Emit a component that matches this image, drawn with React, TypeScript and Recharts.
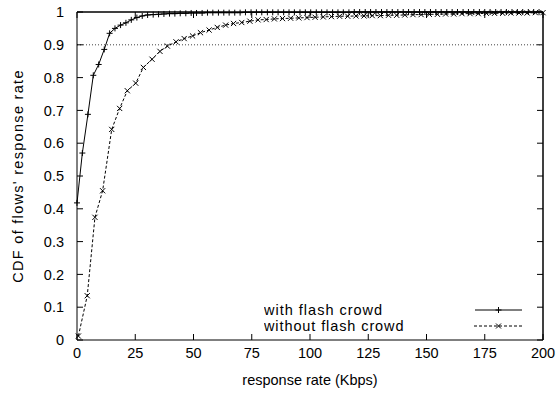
import React from "react";
import { LineChart, Line, XAxis, YAxis, ReferenceLine, CartesianGrid } from "recharts";

const xTicks = [0, 25, 50, 75, 100, 125, 150, 175, 200];
const yTicks = [0, 0.1, 0.2, 0.3, 0.4, 0.5, 0.6, 0.7, 0.8, 0.9, 1];

// with flash crowd (+)
const withX = [
  0, 2.3, 4.7, 7, 9.3, 11.7, 14, 16.3, 18.7, 21, 23.3, 25.7, 28, 30.3, 32.7, 35, 37.3, 39.7, 42, 44.3,
  46.7, 49, 51.3, 53.7, 56, 58.3, 60.7, 63, 65.3, 67.7, 70, 72.3, 74.7, 77, 79.3, 81.7, 84, 86.3, 88.7,
  91, 93.3, 95.7, 98, 100.3, 102.7, 105, 107.3, 109.7, 112, 114.3, 116.7, 119, 121.3, 123.7, 126,
  128.3, 130.7, 133, 135.3, 137.7, 140, 142.3, 144.7, 147, 149.3, 151.7, 154, 156.3, 158.7, 161,
  163.3, 165.7, 168, 170.3, 172.7, 175, 177.3, 179.7, 182, 184.3, 186.7, 189, 191.3, 193.7, 196, 198.3,
];
const withY = [
  0.418, 0.57, 0.688, 0.807, 0.84, 0.886, 0.935, 0.95, 0.96, 0.967, 0.976, 0.983, 0.988, 0.991, 0.992,
  0.993, 0.994, 0.995, 0.995, 0.996, 0.996, 0.997, 0.997, 0.997, 0.998, 0.998, 0.998, 0.998, 0.998,
  0.998, 0.998, 0.999, 0.999, 0.999, 0.999, 0.999, 0.999, 0.999, 0.999, 0.999, 0.999, 0.999, 0.999,
  0.999, 0.999, 0.999, 0.999, 0.999, 0.999, 0.999, 0.999, 1, 1, 1, 1, 1, 1, 1, 1, 1, 1, 1, 1, 1, 1, 1,
  1, 1, 1, 1, 1, 1, 1, 1, 1, 1, 1, 1, 1, 1, 1, 1, 1, 1, 1, 1,
];

// without flash crowd (x)
const withoutX = [
  0.6, 4.4, 7.7, 11, 14.9, 18.3, 21.6, 25.2, 28.5, 32.2, 35.6, 38.8, 42.5, 46, 49.6, 53, 56.7, 60.2,
  63.8, 67.2, 70.7, 74.2, 77.7, 81.2, 84.7, 88.2, 91.7, 95.2, 98.7, 102.2, 105.7, 109.2, 112.7, 116.2,
  119.7, 123.2, 126.7, 130.2, 133.7, 137.2, 140.7, 144.2, 147.7, 151.2, 154.7, 158.2, 161.7, 165.2,
  168.7, 172.2, 175.7, 179.2, 182.7, 186.2, 189.7, 193.2, 196.7, 200,
];
const withoutY = [
  0.012, 0.135, 0.374, 0.455, 0.642, 0.706, 0.76, 0.783, 0.831, 0.856, 0.88, 0.896, 0.909, 0.919,
  0.927, 0.937, 0.945, 0.953, 0.96, 0.965, 0.968, 0.972, 0.976, 0.977, 0.979, 0.98, 0.981, 0.982,
  0.983, 0.984, 0.985, 0.986, 0.987, 0.987, 0.988, 0.988, 0.989, 0.989, 0.99, 0.99, 0.991, 0.992,
  0.992, 0.993, 0.993, 0.994, 0.994, 0.995, 0.995, 0.995, 0.996, 0.996, 0.996, 0.997, 0.997, 0.997,
  0.998, 0.998,
];

const withData = withX.map((x, i) => ({ x, y: withY[i] }));
const withoutData = withoutX.map((x, i) => ({ x, y: withoutY[i] }));

const FONT = "'Liberation Sans', Arial, Helvetica, sans-serif";
const FS = 14.5;
const TICK = 6;

const fmtY = (v: number) => (v === 0 || v === 1 ? String(v) : v.toFixed(1));

function BottomTick(props: any) {
  const { x, y, payload } = props;
  const axisY = y - 8;
  return (
    <g>
      <line x1={x} x2={x} y1={axisY} y2={axisY - TICK} stroke="#000" />
      <text x={x} y={y} dy="0.71em" textAnchor="middle" fontFamily={FONT} fontSize={FS} fill="#000">
        {payload.value}
      </text>
    </g>
  );
}

function LeftTick(props: any) {
  const { x, y, payload } = props;
  const axisX = x + 13;
  return (
    <g>
      <line x1={axisX} x2={axisX + TICK} y1={y} y2={y} stroke="#000" />
      <text x={x} y={y} dy="0.36em" textAnchor="end" fontFamily={FONT} fontSize={FS} fill="#000">
        {fmtY(payload.value)}
      </text>
    </g>
  );
}

// mirrored ticks on the top and right border (gnuplot style)
const topTickShape = (p: any) => {
  const top = Math.min(p.y1, p.y2);
  return <line x1={p.x1} x2={p.x1} y1={top} y2={top + TICK} stroke="#000" />;
};
const rightTickShape = (p: any) => {
  const right = Math.max(p.x1, p.x2);
  return <line x1={right} x2={right - TICK} y1={p.y1} y2={p.y1} stroke="#000" />;
};

const PlusDot = (props: any) => {
  const { cx, cy, index } = props;
  if (cx == null || cy == null) return <g key={`p-${index}`} />;
  return (
    <g key={`p-${index}`}>
      <line x1={cx - 3} x2={cx + 3} y1={cy} y2={cy} stroke="#000" />
      <line x1={cx} x2={cx} y1={cy - 3} y2={cy + 3} stroke="#000" />
    </g>
  );
};

const CrossDot = (props: any) => {
  const { cx, cy, index } = props;
  if (cx == null || cy == null) return <g key={`c-${index}`} />;
  return (
    <g key={`c-${index}`}>
      <line x1={cx - 2.6} x2={cx + 2.6} y1={cy - 2.6} y2={cy + 2.6} stroke="#000" />
      <line x1={cx - 2.6} x2={cx + 2.6} y1={cy + 2.6} y2={cy - 2.6} stroke="#000" />
    </g>
  );
};

function KeyBox() {
  return (
    <svg width={300} height={36} style={{ display: "block" }}>
      <text x={0} y={15} fontFamily={FONT} fontSize={FS} fill="#000" letterSpacing={1}>
        with flash crowd
      </text>
      <line x1={211} x2={258} y1={10} y2={10} stroke="#000" />
      <line x1={231.5} x2={237.5} y1={10} y2={10} stroke="#000" />
      <line x1={234.5} x2={234.5} y1={7} y2={13} stroke="#000" />
      <text x={0} y={31} fontFamily={FONT} fontSize={FS} fill="#000" letterSpacing={0.9}>
        without flash crowd
      </text>
      <line x1={210} x2={258} y1={26} y2={26} stroke="#000" strokeDasharray="3 2" />
      <line x1={232} x2={237} y1={23.5} y2={28.5} stroke="#000" />
      <line x1={232} x2={237} y1={28.5} y2={23.5} stroke="#000" />
    </svg>
  );
}

export default function App() {
  return (
    <div style={{ position: "absolute", left: 0, top: 0, width: 560, height: 394, background: "#fff" }}>
      <LineChart width={560} height={394} margin={{ top: 12, right: 17, bottom: 0, left: 0 }}>
        <CartesianGrid
          stroke="#000"
          horizontalCoordinatesGenerator={(a: any) => [a.offset.top]}
          verticalCoordinatesGenerator={(a: any) => [a.offset.left + a.offset.width]}
        />
        <XAxis
          dataKey="x"
          type="number"
          domain={[0, 200]}
          ticks={xTicks}
          height={54}
          stroke="#000"
          tickSize={0}
          tickMargin={8}
          tick={BottomTick}
          label={{
            content: (p: any) => {
              const vb = p.viewBox;
              return (
                <text x={vb.x + vb.width / 2} y={385} textAnchor="middle" fontFamily={FONT} fontSize={FS} fill="#000">
                  response rate (Kbps)
                </text>
              );
            },
          }}
        />
        <YAxis
          type="number"
          domain={[0, 1]}
          ticks={yTicks}
          width={77}
          stroke="#000"
          tickSize={0}
          tickMargin={13}
          tick={LeftTick}
          label={{
            content: (p: any) => {
              const vb = p.viewBox;
              const cx = 18;
              const cy = vb.y + vb.height / 2;
              return (
                <text
                  x={cx}
                  y={cy}
                  transform={`rotate(-90 ${cx} ${cy})`}
                  textAnchor="middle"
                  dominantBaseline="central"
                  fontFamily={FONT}
                  fontSize={FS}
                  letterSpacing={1.3}
                  fill="#000"
                >
                  CDF of flows' response rate
                </text>
              );
            },
          }}
        />
        <ReferenceLine y={1} stroke="#000" />
        <ReferenceLine x={200} stroke="#000" />
        {xTicks.map((t) => (
          <ReferenceLine key={`tx-${t}`} x={t} shape={topTickShape} />
        ))}
        {yTicks.map((t) => (
          <ReferenceLine key={`ty-${t}`} y={t} shape={rightTickShape} />
        ))}
        <ReferenceLine y={0.9} stroke="#444" strokeDasharray="1 2" />
        <Line
          data={withData}
          dataKey="y"
          type="linear"
          stroke="#000"
          strokeWidth={1}
          dot={PlusDot}
          activeDot={false}
          isAnimationActive={false}
        />
        <Line
          data={withoutData}
          dataKey="y"
          type="linear"
          stroke="#000"
          strokeWidth={1}
          strokeDasharray="3 2"
          dot={CrossDot}
          activeDot={false}
          isAnimationActive={false}
        />
      </LineChart>
      <div style={{ position: "absolute", left: 264, top: 300 }}>
        <KeyBox />
      </div>
    </div>
  );
}
